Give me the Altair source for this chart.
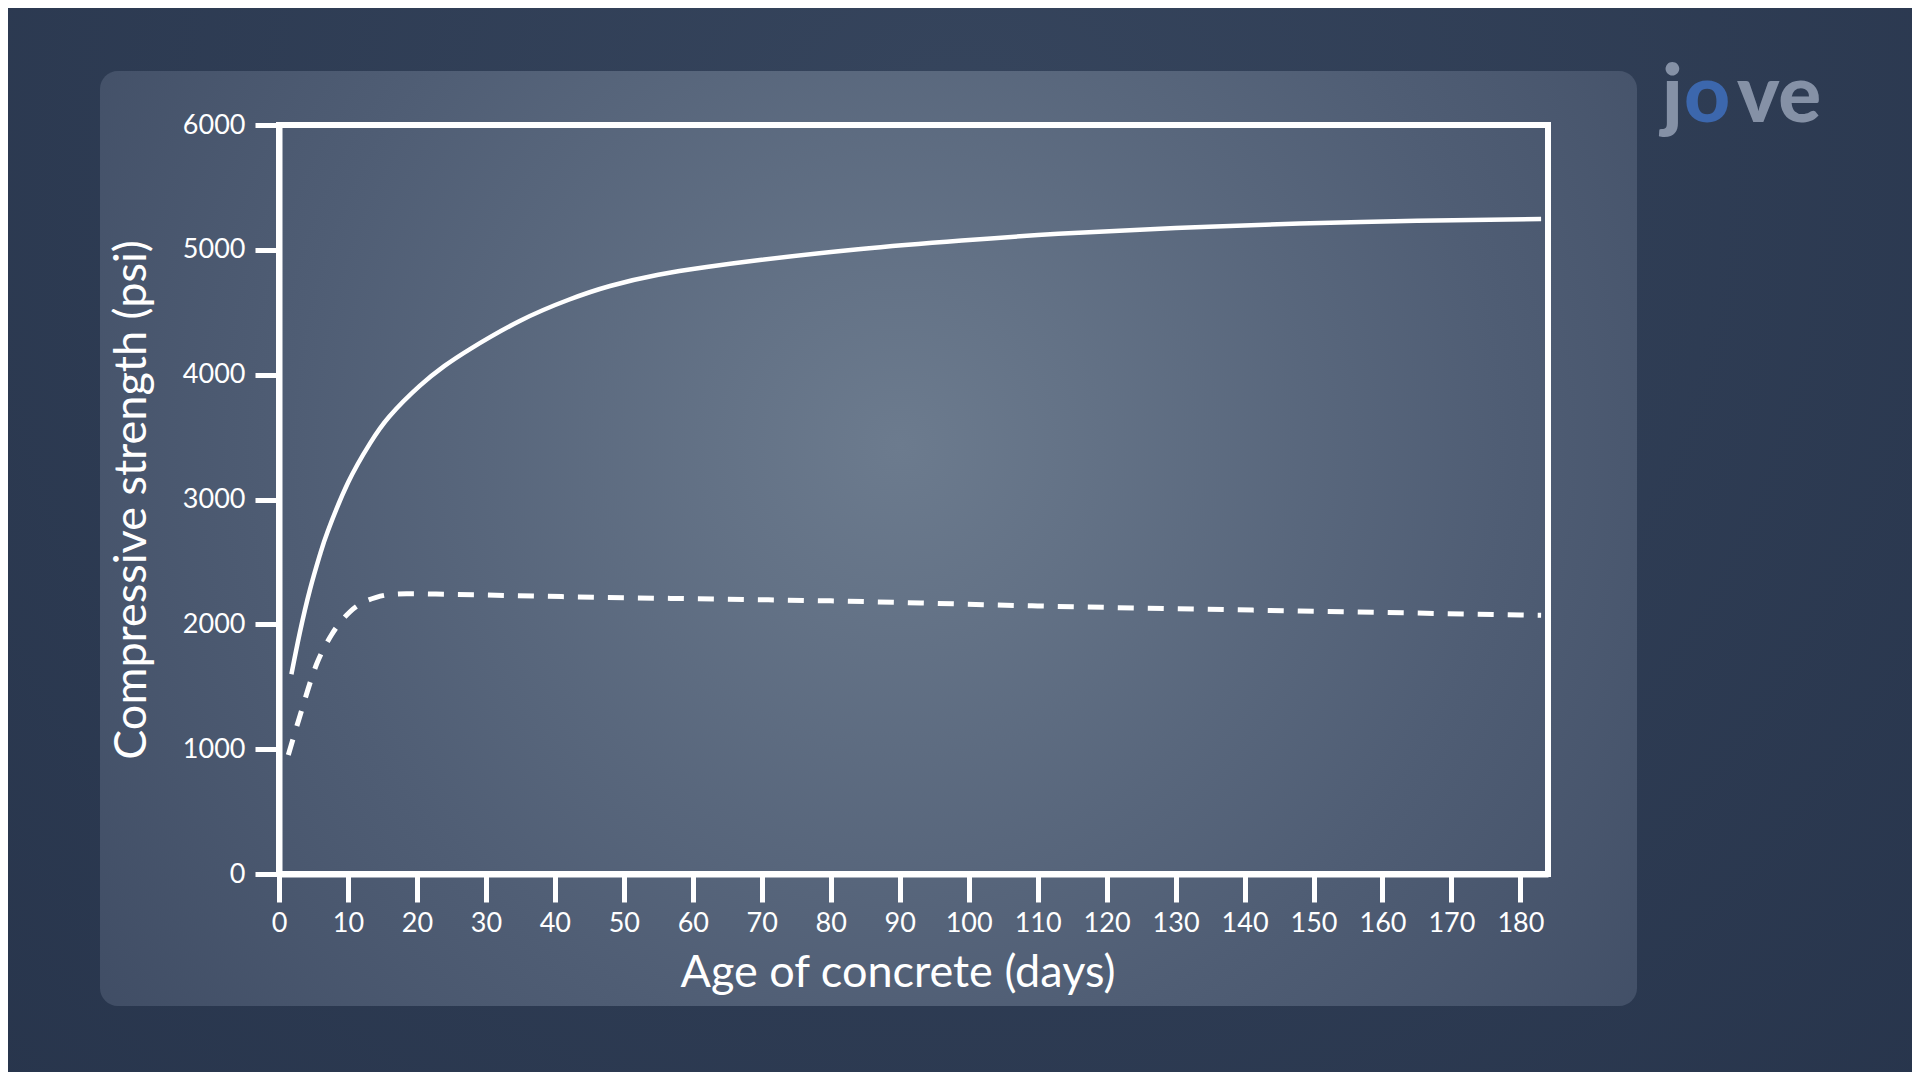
import altair as alt
import pandas as pd

# ---- data ----
solid_days = [1.8, 3, 4.5, 6, 7.1, 10, 13.2, 16, 20.4, 24, 27.7, 34.9, 42, 48, 55, 62, 70, 84, 99, 113, 130, 148, 165, 183]
solid_psi = [1600, 1928, 2280, 2569, 2750, 3134, 3450, 3665, 3910, 4070, 4205, 4430, 4600, 4710, 4800, 4862, 4920, 5005, 5075, 5128, 5175, 5210, 5232, 5246]

dashed_days = [1.35, 3, 5.5, 7.6, 10.3, 12, 14.1, 16, 18.5, 25, 41, 60, 80, 110, 148, 180, 183]
dashed_psi = [953, 1260, 1688, 1915, 2101, 2170, 2216, 2238, 2245, 2240, 2222, 2205, 2188, 2147, 2107, 2075, 2072]

x_ticks = list(range(0, 181, 10))
y_ticks = list(range(0, 6001, 1000))

W, H = 1269, 749
FONT = "Lato"

solid_df = pd.DataFrame({"day": solid_days, "psi": solid_psi})
dashed_df = pd.DataFrame({"day": dashed_days, "psi": dashed_psi})
one = pd.DataFrame({"k": [0]})

x_enc = alt.X("day:Q",
              scale=alt.Scale(domain=[0, 184], nice=False),
              axis=alt.Axis(values=x_ticks, title="Age of concrete (days)", format="d",
                            labelFlush=False, labelOverlap=False,
                            tickSize=28, tickWidth=5, tickColor="white",
                            domainColor="white", domainWidth=6,
                            labelFontSize=27, labelColor="white", labelFont=FONT,
                            labelPadding=8,
                            titleFontSize=45, titleColor="white", titleFont=FONT,
                            titleFontWeight="normal", titlePadding=14,
                            titleX=W / 2 - 16,
                            grid=False, zindex=2))
y_enc = alt.Y("psi:Q",
              scale=alt.Scale(domain=[0, 6000], nice=False),
              axis=alt.Axis(values=y_ticks, title="Compressive strength (psi)", format="d",
                            labelFlush=False, labelOverlap=False,
                            tickSize=24, tickWidth=5, tickColor="white",
                            domainColor="white", domainWidth=6,
                            labelFontSize=27, labelColor="white", labelFont=FONT,
                            labelPadding=10,
                            titleFontSize=45, titleColor="white", titleFont=FONT,
                            titleFontWeight="normal", titlePadding=28,
                            grid=False, zindex=2))

outer_bg = alt.Chart(one).mark_rect(
    fill=alt.RadialGradient(gradient="radial",
                            stops=[alt.GradientStop(offset=0, color="#36455d"),
                                   alt.GradientStop(offset=1, color="#26334a")],
                            x1=0.5, y1=0.3, x2=0.5, y2=0.3, r1=0, r2=0.8)
).encode(x=alt.value(-271), x2=alt.value(1633), y=alt.value(-117), y2=alt.value(947))

panel = alt.Chart(one).mark_rect(
    cornerRadius=18,
    fill=alt.RadialGradient(gradient="radial",
                            stops=[alt.GradientStop(offset=0, color="#6c7b8e"),
                                   alt.GradientStop(offset=0.55, color="#4f5d74"),
                                   alt.GradientStop(offset=1, color="#3b4860")],
                            x1=0.52, y1=0.44, x2=0.52, y2=0.44, r1=0, r2=0.72)
).encode(x=alt.value(-179), x2=alt.value(1358), y=alt.value(-54), y2=alt.value(881))

frame = alt.Chart(one).mark_rect(fill=None, stroke="white", strokeWidth=6).encode(
    x=alt.value(0), x2=alt.value(W), y=alt.value(0), y2=alt.value(H))

solid = alt.Chart(solid_df).mark_line(color="white", strokeWidth=4.5, interpolate="natural").encode(
    x=x_enc, y=y_enc)
dashed = alt.Chart(dashed_df).mark_line(color="white", strokeWidth=5, strokeDash=[16, 14],
                                        interpolate="monotone").encode(
    x="day:Q", y="psi:Q")

logo_j = alt.Chart(one).mark_text(text="j", font=FONT, fontWeight=900, fontSize=80,
                                  color="#8591a6", align="left", baseline="alphabetic").encode(
    x=alt.value(1383), y=alt.value(-3))
logo_o = alt.Chart(one).mark_text(text="o", font=FONT, fontWeight=900, fontSize=80,
                                  color="#3c67ad", align="left", baseline="alphabetic").encode(
    x=alt.value(1405), y=alt.value(-3))
logo_ve = alt.Chart(one).mark_text(text="ve", font=FONT, fontWeight=900, fontSize=80,
                                   color="#8591a6", align="left", baseline="alphabetic").encode(
    x=alt.value(1458), y=alt.value(-3))

chart = alt.layer(outer_bg, panel, solid, dashed, frame, logo_j, logo_o, logo_ve).properties(
    width=W, height=H,
    padding={"left": 271, "top": 117, "right": 364, "bottom": 198},
    autosize=alt.AutoSizeParams(type="none"),
    background="#2b3950",
).configure_view(stroke=None, fill=None)

chart.save("out.html", embed_options={"renderer": "svg", "actions": False})
